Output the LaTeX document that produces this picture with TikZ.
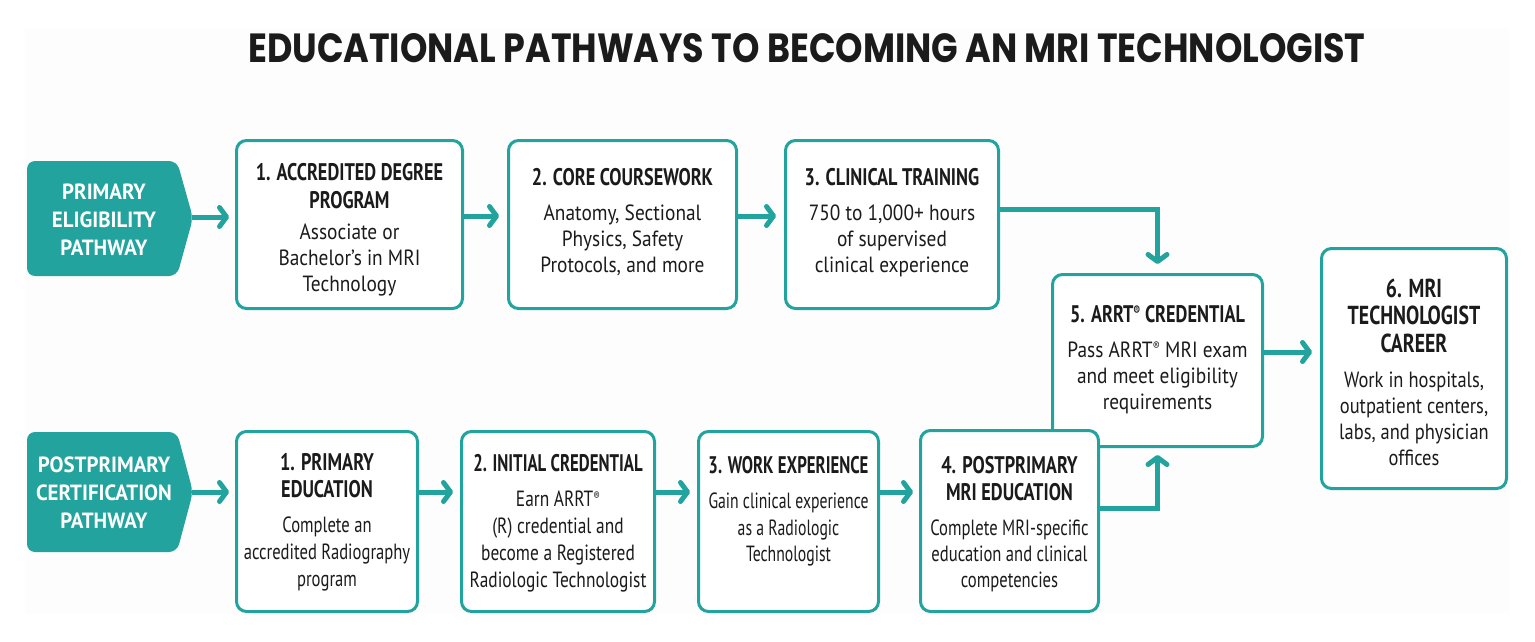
\documentclass[tikz,border=0pt]{standalone}
\usepackage{fontspec}
\usepackage{graphicx}
\setmainfont{PT Sans}
\newfontfamily\bodyA{PT Sans}[FakeStretch=0.88]
\newfontfamily\bodyB{PT Sans}[FakeStretch=0.84]
\newfontfamily\bodyC{PT Sans}[FakeStretch=0.79]
\newfontfamily\bodyD{PT Sans}[FakeStretch=0.755]
\newfontfamily\bodyE{PT Sans}[FakeStretch=0.715]
\newfontfamily\hdfont{PT Sans}[FakeStretch=0.76]
\newfontfamily\hdfontN{PT Sans}[FakeStretch=0.70]
\newfontfamily\tagfont{PT Sans}[FakeStretch=0.95]
\newfontfamily\ttlfont{Poppins}
\usetikzlibrary{arrows.meta,calc}
\definecolor{teal1}{HTML}{22A39D}
\definecolor{ink}{HTML}{1B1B1B}
\definecolor{panel}{HTML}{FDFDFD}
\newcommand{\hd}[1]{{\hdfont\bfseries\fontsize{24}{26}\selectfont #1}}
\newcommand{\hdn}[1]{{\hdfontN\bfseries\fontsize{24}{26}\selectfont #1}}
\newcommand{\hdl}[1]{{\hdfont\bfseries\fontsize{26}{26}\selectfont #1}}
\newcommand{\rgm}{\raisebox{0.6ex}{\scalebox{0.55}{®}}}
\begin{document}
\begin{tikzpicture}[x=1pt,y=-1pt,
  box/.style={draw=teal1, line width=3pt, rounded corners=10pt, fill=white, inner sep=0pt, anchor=north west},
  txt/.style={font=#1\fontsize{22}{26}\selectfont, text=ink, align=center, inner sep=0pt, anchor=north},
  tagtxt/.style={font=\tagfont\bfseries\fontsize{22}{28}\selectfont, text=white, align=center, inner sep=0pt},
  tagshape/.style={fill=teal1, rounded corners=8pt},
  arr/.style={draw=teal1, line width=5pt, -{Straight Barb[length=7pt,width=19pt,round]}}
]
\useasboundingbox (0,0) rectangle (1535,642);
\fill[white] (0,0) rectangle (1535,642);
\fill[panel] (25,28) rectangle (1509,613);

\node[anchor=north west, inner sep=0pt, text=ink] (ttl) at (248,33)
  {\resizebox{1117pt}{29pt}{\ttlfont\bfseries EDUCATIONAL PATHWAYS TO BECOMING AN MRI TECHNOLOGIST}};

% tags
\fill[tagshape] (27,161) -- (177,161) -- (193,218) -- (177,276) -- (27,276) -- cycle;
\coordinate (t1tip) at (192,217);
\node[tagtxt] (t1) at (104,220) {PRIMARY\\ELIGIBILITY\\PATHWAY};
\fill[tagshape] (27,432) -- (177,432) -- (193,492) -- (177,552) -- (27,552) -- cycle;
\coordinate (t2tip) at (192,492);
\node[tagtxt] (t2) at (104,493) {POSTPRIMARY\\CERTIFICATION\\PATHWAY};

% helper rows
\coordinate (rowA) at (0,216);
\coordinate (rowB) at (0,492);
\coordinate (kA) at (0,209);
\coordinate (kB) at (0,508);
\coordinate (kC) at (0,352);

% top row boxes
\node[box, minimum width=226pt, minimum height=168pt] (p1) at (235,139) {};
\node[box, minimum width=228pt, minimum height=168pt] (p2) at (507,139) {};
\node[box, minimum width=213pt, minimum height=168pt] (p3) at (784,139) {};
\node[box, minimum width=210pt, minimum height=172pt] (b5) at (1051,273) {};
\node[box, minimum width=185pt, minimum height=240pt] (b6) at (1320,247) {};
% bottom row boxes
\node[box, minimum width=181pt, minimum height=180pt] (q1) at (235,430) {};
\node[box, minimum width=193pt, minimum height=180pt] (q2) at (460,430) {};
\node[box, minimum width=180pt, minimum height=180pt] (q3) at (697,430) {};
\node[box, minimum width=178pt, minimum height=181pt] (q4) at (919,429) {};

% texts
\node[txt=\bodyA] (p1x) at ($(p1.north)+(0,24.5)$) {\hd{1. ACCREDITED DEGREE}\\[2pt]\hd{PROGRAM}\\[5pt]Associate or\\Bachelor’s in MRI\\Technology};
\node[txt=\bodyA] (p2x) at ($(p2.north)+(0,29.5)$) {\hd{2. CORE COURSEWORK}\\[9pt]Anatomy, Sectional\\Physics, Safety\\Protocols, and more};
\node[txt=\bodyA] (p3x) at ($(p3.north)+(0,29.5)$) {\hd{3. CLINICAL TRAINING}\\[9pt]750 to 1,000+ hours\\of supervised\\clinical experience};
\node[txt=\bodyA] (b5x) at ($(b5.north)+(0,32)$) {\hd{5. ARRT\rgm{} CREDENTIAL}\\[9pt]Pass ARRT\rgm{} MRI exam\\and meet eligibility\\requirements};
\node[txt=\bodyB] (b6x) at ($(b6.north)+(0,31.5)$) {\hdl{6. MRI}\\[1pt]\hdl{TECHNOLOGIST}\\[2pt]\hdl{CAREER}\\[9pt]Work in hospitals,\\outpatient centers,\\labs, and physician\\offices};
\node[txt=\bodyD] (q1x) at ($(q1.north)+(0,23.5)$) {\hd{1. PRIMARY}\\[1pt]\hd{EDUCATION}\\[9pt]Complete an\\[1pt]accredited Radiography\\[1pt]program};
\node[txt=\bodyC] (q2x) at ($(q2.north)+(0,24.5)$) {\hdn{2. INITIAL CREDENTIAL}\\[9pt]Earn ARRT\rgm\\[1pt](R) credential and\\[1pt]become a Registered\\[1pt]Radiologic Technologist};
\node[txt=\bodyE] (q3x) at ($(q3.north)+(0,26.5)$) {\hdn{3. WORK EXPERIENCE}\\[9pt]Gain clinical experience\\[1pt]as a Radiologic\\Technologist};
\node[txt=\bodyD] (q4x) at ($(q4.north)+(0,27.5)$) {\hd{4. POSTPRIMARY}\\[1pt]\hd{MRI EDUCATION}\\[9pt]Complete MRI-specific\\education and clinical\\competencies};

% connectors top
\draw[arr, shorten >=6pt] (t1tip) -- (t1tip -| p1.west);
\draw[arr, shorten >=8pt] (p1.east |- rowA) -- (p2.west |- rowA);
\draw[arr, shorten >=8pt] (p2.east |- rowA) -- (p3.west |- rowA);
\draw[arr, shorten >=9pt] (p3.east |- kA) -| (b5.north);
\draw[arr, shorten >=8pt] (b5.east |- kC) -- (b6.west |- kC);
% connectors bottom
\draw[arr, shorten >=6pt] (t2tip) -- (t2tip -| q1.west);
\draw[arr, shorten >=7pt] (q1.east |- rowB) -- (q2.west |- rowB);
\draw[arr, shorten >=7pt] (q2.east |- rowB) -- (q3.west |- rowB);
\draw[arr, shorten >=6pt] (q3.east |- rowB) -- (q4.west |- rowB);
\draw[arr, shorten >=7pt] (q4.east |- kB) -| (b5.south);
\end{tikzpicture}
\end{document}
